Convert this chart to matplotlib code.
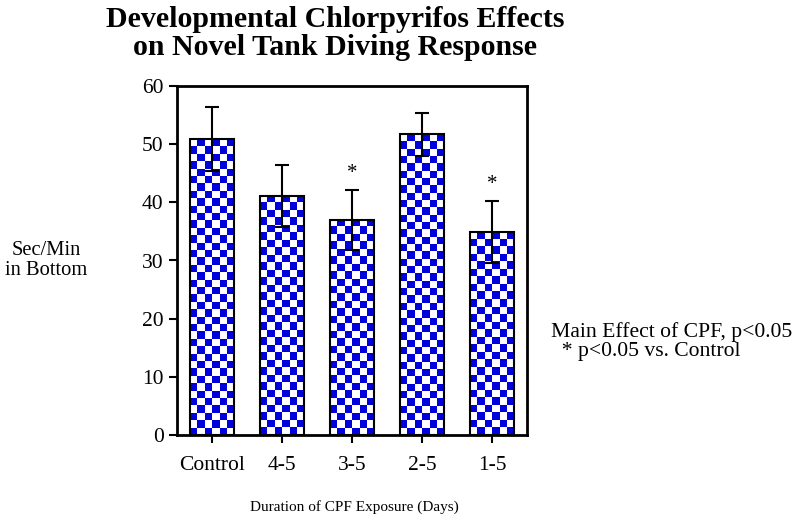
import matplotlib.pyplot as plt
from matplotlib.colors import ListedColormap
import numpy as np

groups = ['Control', '4-5', '3-5', '2-5', '1-5']
means = [50.8, 41.1, 37.0, 51.7, 34.9]
sems = [5.5, 5.3, 5.2, 3.7, 5.4]
signif = [False, False, True, False, True]

plt.rcParams['font.family'] = ['Liberation Serif', 'DejaVu Serif']

fig = plt.figure(figsize=(8, 5.21), dpi=100)
ax = fig.add_axes([0.221, 0.165, 0.438, 0.67])

x = np.arange(len(groups))
bars = ax.bar(x, means, width=0.63, facecolor='none', edgecolor='black',
              linewidth=1.5, zorder=3)

# checkerboard fill, clipped to each bar
checker = ListedColormap(['white', '#0000dc'])
cell_px = 7.4
for b in bars:
    ncol = 6
    h_px = b.get_height() * 349 / 60
    nrow = max(1, int(round(h_px / cell_px)))
    cb = (np.add.outer(np.arange(nrow), np.arange(ncol)) % 2).astype(float)
    ax.imshow(cb, cmap=checker,
              extent=[b.get_x(), b.get_x() + b.get_width(), 0, b.get_height()],
              origin='upper', aspect='auto', interpolation='nearest', zorder=2)

ax.errorbar(x, means, yerr=sems, fmt='none', ecolor='black', elinewidth=1.5,
            capsize=5, capthick=1.5, zorder=4)

for xi, m, s, sg in zip(x, means, sems, signif):
    if sg:
        ax.text(xi, m + s + 1.2, '*', ha='center', va='bottom', fontsize=15)

ax.set_xlim(-0.5, 4.5)
ax.set_ylim(0, 60)
ax.set_yticks(range(0, 61, 10))
ax.set_xticks(x)
ax.set_xticklabels(groups)
ax.tick_params(axis='both', labelsize=15.5, width=1.5, length=6, direction='out')
ax.tick_params(axis='x', pad=9)
for sp in ax.spines.values():
    sp.set_linewidth(2)

fig.text(0.419, 0.935, 'Developmental Chlorpyrifos Effects\non Novel Tank Diving Response',
         ha='center', va='center', fontsize=21.5, fontweight='bold', linespacing=1.05)
fig.text(0.058, 0.5, 'Sec/Min\nin Bottom', ha='center', va='center', fontsize=14.8,
         linespacing=1.05)
fig.text(0.443, 0.027, 'Duration of CPF Exposure (Days)', ha='center', va='center',
         fontsize=11)
fig.text(0.689, 0.381, 'Main Effect of CPF, p<0.05\n  * p<0.05 vs. Control',
         ha='left', va='top', fontsize=15.6, linespacing=1.0)

fig.savefig('out.png', dpi=100)
